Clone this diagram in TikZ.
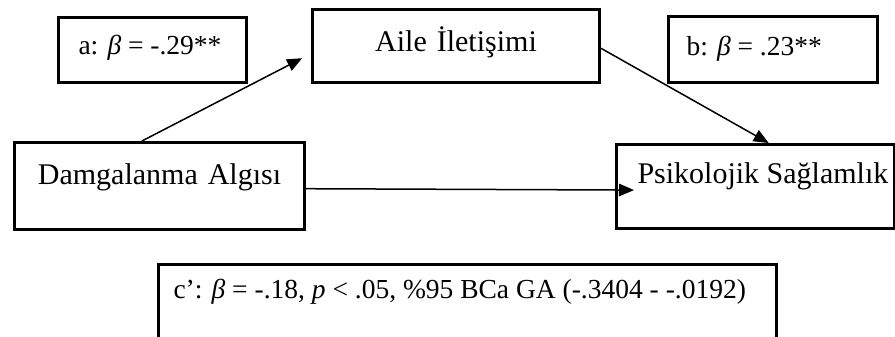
\documentclass[tikz,border=0pt]{standalone}
\usepackage{fontspec}
\setmainfont{Liberation Serif}
\usetikzlibrary{arrows.meta,calc}
\tikzset{
    box/.style =    {rectangle,
                    fill=white,
                    draw=black,
                    line width=1.2pt,
                    anchor=north west,
                    inner sep=0pt},
    var/.style =    {box,
                    text=black,
                    align=center,
                    font=\fontsize{12}{14}\selectfont},
    coef/.style =   {anchor=base west,
                    text=black,
                    inner sep=0pt,
                    font=\fontsize{11}{13}\selectfont},
    vartext/.style ={coef,
                    font=\fontsize{12}{14}\selectfont},
    link/.style =   {line width=0.6pt,
                    ->},
    >={Triangle[length=6pt,width=5pt]}}

\begin{document}
\begin{tikzpicture}[x=0.4pt,y=-0.4pt]
                \clip (0,0) rectangle (895,336);
                % boxes
                \node[box, minimum width=75.2pt, minimum height=26pt]   (a)   at (57,16)   {};
                \node[box, minimum width=83.6pt, minimum height=26.4pt] (b)   at (667,15)  {};
                \node[box, minimum width=111.2pt, minimum height=33.6pt](psi) at (615,143) {};
                \node[box, minimum width=247.2pt, minimum height=34.8pt](c)   at (157,263) {};
                \node[var, text width=114.8pt, text height=16.8pt, text depth=12.4pt]
                        (aile) at (311,8)   {Aile İletişimi};
                \node[var, text width=116pt, text height=16.8pt, text depth=18pt]
                        (dam)  at (13,141)  {Damgalanma Algısı};
                % texts
                \node[coef]    (a text)   at ($(a.north west)+(21,38)$)   {a: \textit{β} = -.29**};
                \node[coef]    (b text)   at ($(b.north west)+(19,40)$)   {b: \textit{β} = .23**};
                \node[vartext] (psi text) at ($(psi.north west)+(22,40)$) {Psikolojik Sağlamlık};
                \node[coef]    (c text)   at ($(c.north west)+(16,35)$)   {c’: \textit{β} = -.18, \textit{p} < .05, \%95 BCa GA (-.3404 - -.0192)};
                % paths
                \draw [link, shorten >=4pt]
                        ($(dam.north west)!0.44!(dam.north east)$) -- ($(aile.south west)!0.40!(aile.north west)$);
                \draw [link]
                        ($(aile.south east)!0.47!(aile.north east)$) -- ($(psi.north west)!0.547!(psi.north east)$);
                \draw [link, shorten >=-7.6pt]
                        ($(dam.south east)!0.47!(dam.north east)$) -- ($(psi.south west)!0.46!(psi.north west)$);
        \end{tikzpicture}
\end{document}
